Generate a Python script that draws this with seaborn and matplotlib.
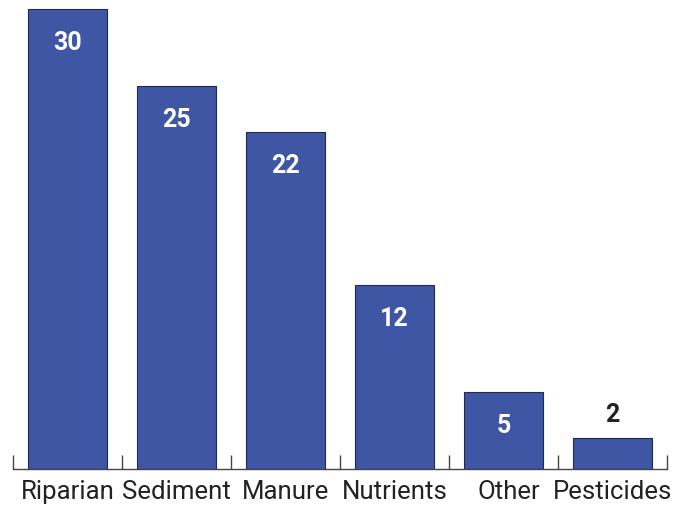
import matplotlib
matplotlib.use("Agg")
import matplotlib.pyplot as plt
import seaborn as sns
import pandas as pd
from matplotlib.ticker import FixedLocator

categories = ["Riparian", "Sediment", "Manure", "Nutrients", "Other", "Pesticides"]
values = [30, 25, 22, 12, 5, 2]

sns.set_theme(style="white")
plt.rcParams['font.family'] = ['Roboto', 'DejaVu Sans']

df = pd.DataFrame({"cat": categories, "val": values})

fig = plt.figure(figsize=(6.88, 5.06), dpi=100)
ax = fig.add_axes([13/688, 36/506, 654/688, 470/506])
sns.barplot(data=df, x="cat", y="val", color="#3f56a5", saturation=1,
            width=0.716, edgecolor="#1e2a50", linewidth=0.8, ax=ax)

ax.set_xlim(-0.5, len(categories) - 0.5)
ax.set_ylim(0, 30 * 470 / 460)
for s in ["top", "right", "left"]:
    ax.spines[s].set_visible(False)
ax.spines["bottom"].set_color("#444444")
ax.spines["bottom"].set_linewidth(1.0)
ax.set_yticks([])
ax.set_xlabel("")
ax.set_ylabel("")
ax.xaxis.set_minor_locator(FixedLocator([i - 0.5 for i in range(len(categories) + 1)]))
ax.tick_params(axis="x", which="major", length=0, pad=7, labelsize=18.5, labelcolor="#222222")
ax.tick_params(axis="x", which="minor", direction="in", length=10, width=1, color="#444444", bottom=True)
labels = ax.get_xticklabels()
labels[4].set_x(labels[4].get_position()[0])
ax.set_xticks(range(len(categories)))
ax.set_xticklabels(categories)
for t in ax.get_xticklabels():
    if t.get_text() == "Other":
        import matplotlib.transforms as mt
        t.set_transform(t.get_transform() + mt.ScaledTranslation(5/100, 0, fig.dpi_scale_trans))

for i, v in enumerate(values):
    if v >= 5:
        ax.annotate(str(v), (i, v), xytext=(0, -33), textcoords="offset pixels",
                    ha="center", va="center", color="white", fontsize=18, fontweight="bold")
    else:
        ax.annotate(str(v), (i, v), xytext=(0, 24), textcoords="offset pixels",
                    ha="center", va="center", color="#222222", fontsize=18, fontweight="bold")

fig.savefig("out.png", dpi=100)
